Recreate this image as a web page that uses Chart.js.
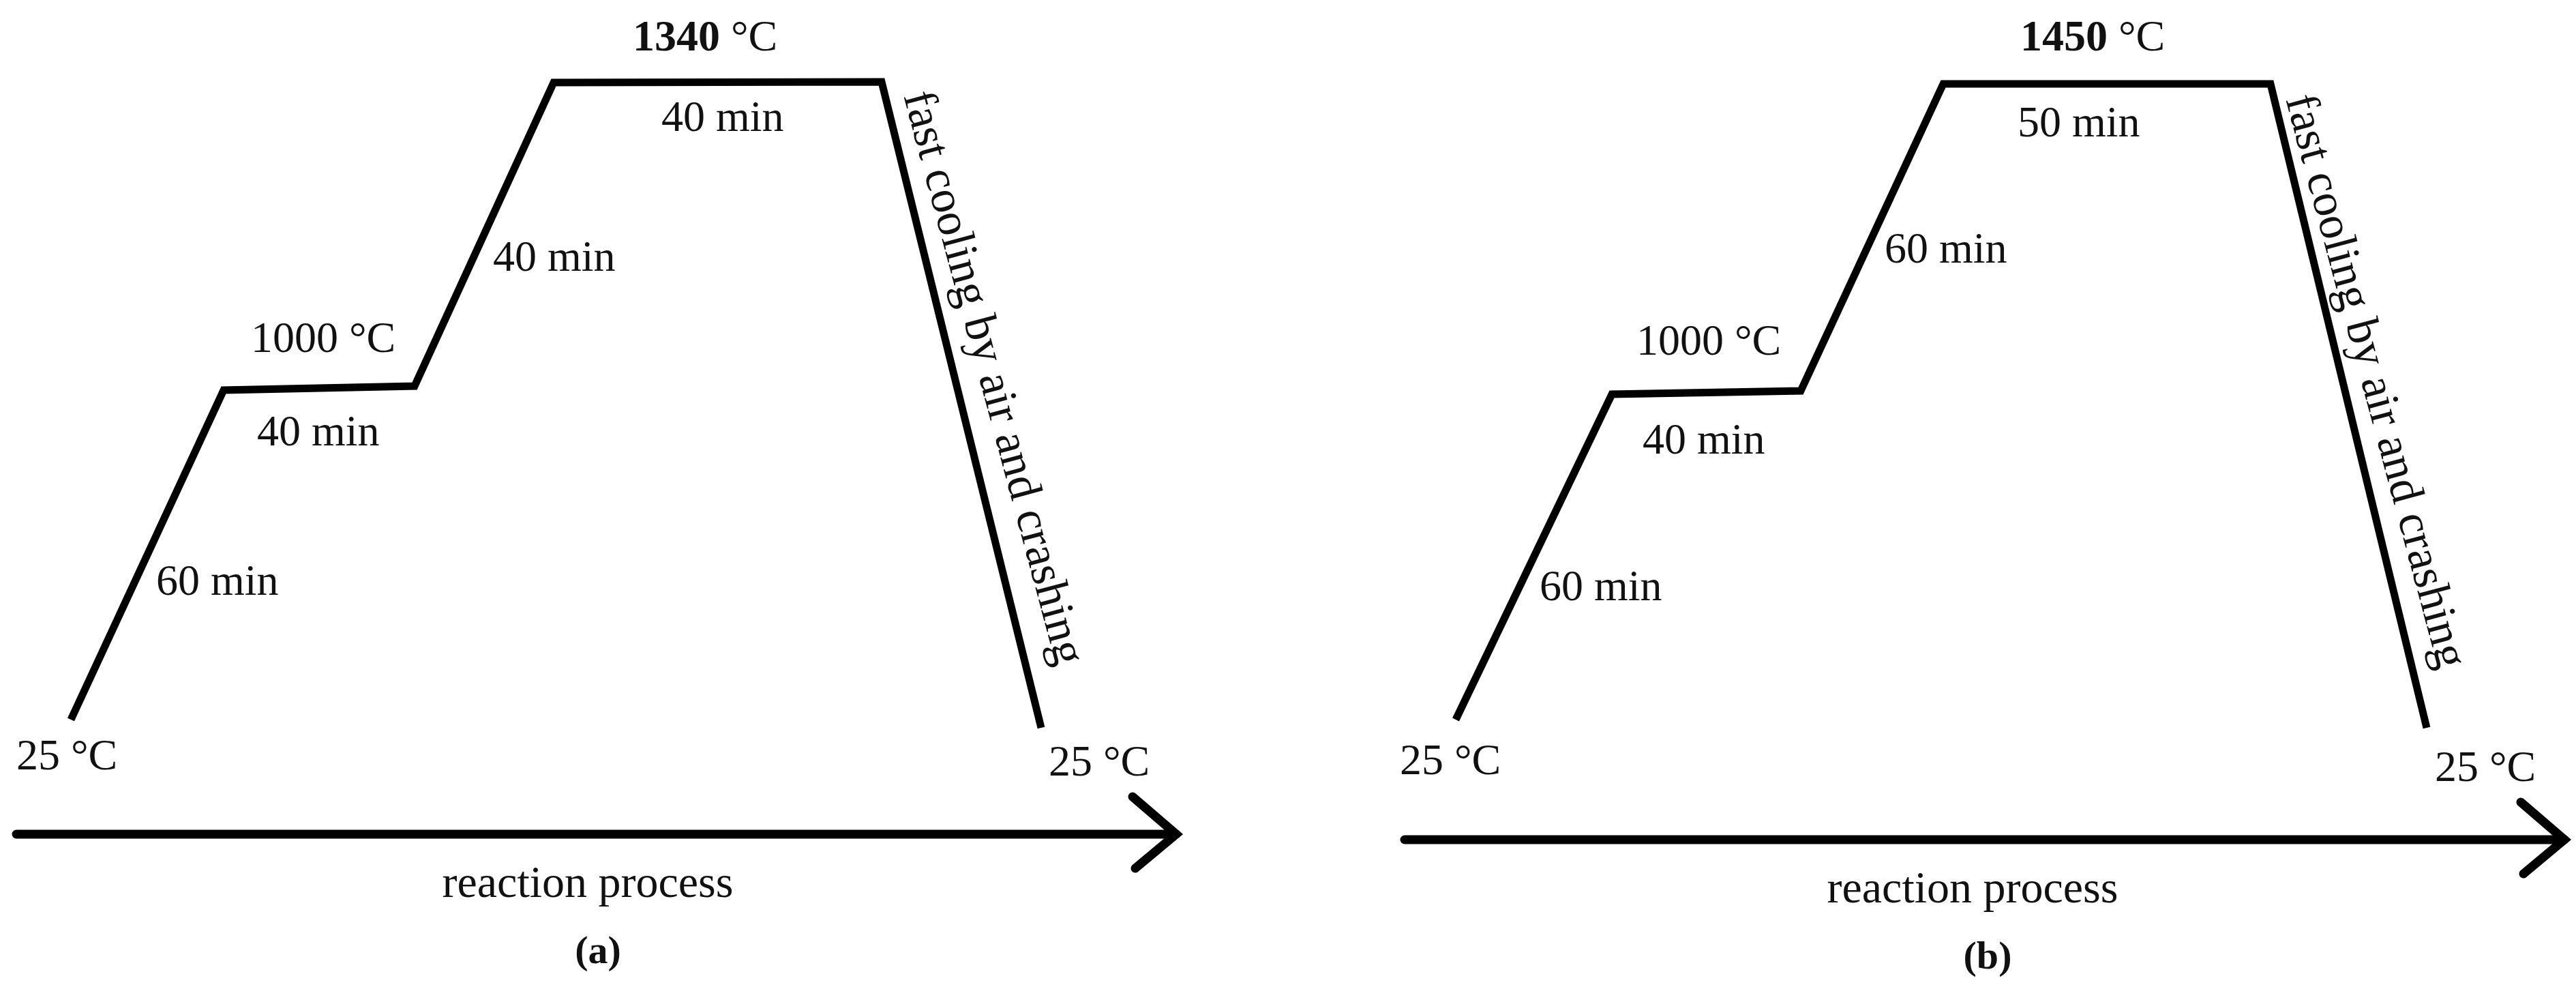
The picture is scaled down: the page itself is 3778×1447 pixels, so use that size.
<!DOCTYPE html>
<html>
<head>
<meta charset="utf-8">
<script src="https://cdn.jsdelivr.net/npm/chart.js@4.4.1/dist/chart.umd.min.js"></script>
<style>
  html, body { margin: 0; padding: 0; background: #fff; }
  #wrap { position: relative; width: 3778px; height: 1447px; }
  .panel { position: absolute; top: 0; width: 1742px; height: 1447px; }
</style>
</head>
<body>
<div id="wrap">
  <div class="panel" style="left:0"><canvas id="chartA" width="1742" height="1447"></canvas></div>
  <div class="panel" style="left:2036px"><canvas id="chartB" width="1742" height="1447"></canvas></div>
</div>
<script>
// heating schedule: temperatures (°C) and stage durations (min)
const tempsA = [25, 1000, 1340, 25];
const timesA = [60, 40, 40, 40];
const tempsB = [25, 1000, 1450, 25];
const timesB = [60, 40, 60, 50];

// schematic profile: position along the process, drawn height
const pathXA = [104, 328, 608, 812, 1293, 1527];
const pathYA = [392, 875, 881, 1326, 1327, 380];
const pathXB = [99, 328, 605, 814, 1294, 1523];
const pathYB = [392, 869, 874, 1324, 1324, 380];

// "reaction process" arrow
const arrowX = [24, 1725];
const arrowYA = 224;
const arrowYB = 216;
const headBack = [-64, -60];
const headSpread = [55, -50];

const FONT = '"Liberation Serif", "Times New Roman", serif';

// where the notes go on each panel (same coordinates as the data)
const notePos = {
  a: {
    peak: [928, 1373], hold2: [970, 1255], ramp2: [723, 1050],
    mid: [368, 931], hold1: [377, 794], ramp1: [229, 575],
    start: [24, 319], end: [1538, 310], cool: [1325, 1307],
    axis: [862, 132], tag: [877, 35]
  },
  b: {
    peak: [927, 1373], hold2: [923, 1247], ramp2: [728, 1062],
    mid: [364, 927], hold1: [373, 782], ramp1: [222, 567],
    start: [17, 312], end: [1535, 302], cool: [1316, 1302],
    axis: [857, 124], tag: [879, 27]
  }
};

function notesFor(p, temps, times, tag) {
  return [
    { at: p.peak, bold: String(temps[2]), text: ' °C' },
    { at: p.hold2, text: times[3] + ' min' },
    { at: p.ramp2, text: times[2] + ' min' },
    { at: p.mid, text: temps[1] + ' °C' },
    { at: p.hold1, text: times[1] + ' min' },
    { at: p.ramp1, text: times[0] + ' min' },
    { at: p.start, text: temps[0] + ' °C' },
    { at: p.end, text: temps[3] + ' °C' },
    { at: p.cool, text: 'fast cooling by air and crashing', rotate: 75, size: 69 },
    { at: p.axis, text: 'reaction process', align: 'center', size: 66 },
    { at: p.tag, bold: tag, align: 'center', size: 58 }
  ];
}

const notesPlugin = {
  id: 'notes',
  afterDatasetsDraw(chart, args, opts) {
    const ctx = chart.ctx;
    const xs = chart.scales.x, ys = chart.scales.y;
    ctx.save();
    ctx.fillStyle = '#111';
    ctx.textBaseline = 'alphabetic';
    opts.items.forEach(n => {
      const size = n.size || 64;
      const px = xs.getPixelForValue(n.at[0]);
      const py = ys.getPixelForValue(n.at[1]);
      ctx.save();
      ctx.translate(px, py);
      if (n.rotate) ctx.rotate(n.rotate * Math.PI / 180);
      ctx.textAlign = 'left';
      const boldFont = 'bold ' + size + 'px ' + FONT;
      const normFont = size + 'px ' + FONT;
      ctx.font = boldFont;
      const wb = n.bold ? ctx.measureText(n.bold).width : 0;
      ctx.font = normFont;
      const wn = n.text ? ctx.measureText(n.text).width : 0;
      let cx = n.align === 'center' ? -(wb + wn) / 2 : 0;
      if (n.bold) {
        ctx.font = boldFont;
        ctx.fillText(n.bold, cx, 0);
        cx += wb;
      }
      if (n.text) {
        ctx.font = normFont;
        ctx.fillText(n.text, cx, 0);
      }
      ctx.restore();
    });
    ctx.restore();
  }
};

function makePanel(id, px, py, arrowY, notes) {
  const tipX = arrowX[1];
  new Chart(document.getElementById(id), {
    type: 'scatter',
    data: {
      datasets: [
        {
          data: px.map((v, i) => ({ x: v, y: py[i] })),
          showLine: true,
          borderColor: '#000',
          borderWidth: 11,
          borderJoinStyle: 'miter',
          borderCapStyle: 'butt',
          pointRadius: 0,
          tension: 0,
          clip: false
        },
        {
          data: arrowX.map(v => ({ x: v, y: arrowY })),
          showLine: true,
          borderColor: '#000',
          borderWidth: 13,
          borderCapStyle: 'round',
          pointRadius: 0,
          clip: false
        },
        {
          data: [
            { x: tipX + headBack[0], y: arrowY + headSpread[0] },
            { x: tipX, y: arrowY },
            { x: tipX + headBack[1], y: arrowY + headSpread[1] }
          ],
          showLine: true,
          borderColor: '#000',
          borderWidth: 13,
          borderCapStyle: 'round',
          borderJoinStyle: 'miter',
          pointRadius: 0,
          clip: false
        }
      ]
    },
    options: {
      responsive: false,
      devicePixelRatio: 1,
      animation: false,
      layout: { padding: 0 },
      scales: {
        x: { type: 'linear', min: 0, max: 1742, display: false },
        y: { type: 'linear', min: 0, max: 1447, display: false }
      },
      plugins: {
        legend: { display: false },
        tooltip: { enabled: false },
        notes: { items: notes }
      }
    },
    plugins: [notesPlugin]
  });
}

makePanel('chartA', pathXA, pathYA, arrowYA, notesFor(notePos.a, tempsA, timesA, '(a)'));
makePanel('chartB', pathXB, pathYB, arrowYB, notesFor(notePos.b, tempsB, timesB, '(b)'));
</script>
</body>
</html>
